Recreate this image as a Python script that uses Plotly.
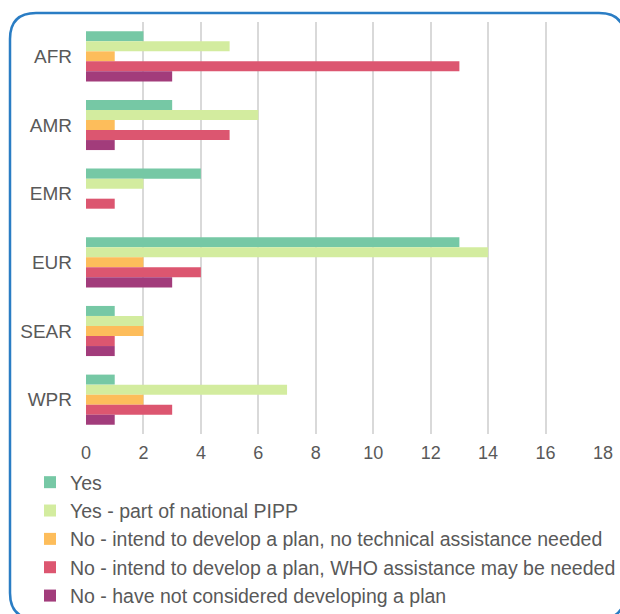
import plotly.graph_objects as go

# WHO regions and the share of answers per planning status
regions = ["AFR", "AMR", "EMR", "EUR", "SEAR", "WPR"]
series_names = [
    "Yes",
    "Yes - part of national PIPP",
    "No - intend to develop a plan, no technical assistance needed",
    "No - intend to develop a plan, WHO assistance may be needed",
    "No - have not considered developing a plan",
]
yes = [2, 3, 4, 13, 1, 1]
yes_pipp = [5, 6, 2, 14, 2, 7]
no_no_ta = [1, 1, 0, 2, 2, 2]
no_who_ta = [13, 5, 1, 4, 1, 3]
no_not_considered = [3, 1, 0, 3, 1, 1]
x_ticks = [0, 2, 4, 6, 8, 10, 12, 14, 16, 18]

colors = ["#76C8A5", "#D3EC9F", "#FDBD5B", "#DC5670", "#A23C7B"]
values = [yes, yes_pipp, no_no_ta, no_who_ta, no_not_considered]

W, H = 620, 614
L, R, T, B = 86, 17, 22, 180
pw, ph = W - L - R, H - T - B

fig = go.Figure()
for name, vals, col in zip(series_names, values, colors):
    fig.add_trace(go.Bar(
        y=regions, x=vals, name=name, orientation="h",
        marker=dict(color=col, line=dict(width=0)),
    ))

def px_x(p):
    return (p - L) / pw

def px_y(p):
    return (H - B - p) / ph

# rounded frame around the whole chart
x0, x1, y0, y1, r = 10, 625, 13, 619, 26
path = (
    f"M {px_x(x0 + r)},{px_y(y0)} L {px_x(x1 - r)},{px_y(y0)} "
    f"Q {px_x(x1)},{px_y(y0)} {px_x(x1)},{px_y(y0 + r)} "
    f"L {px_x(x1)},{px_y(y1 - r)} "
    f"Q {px_x(x1)},{px_y(y1)} {px_x(x1 - r)},{px_y(y1)} "
    f"L {px_x(x0 + r)},{px_y(y1)} "
    f"Q {px_x(x0)},{px_y(y1)} {px_x(x0)},{px_y(y1 - r)} "
    f"L {px_x(x0)},{px_y(y0 + r)} "
    f"Q {px_x(x0)},{px_y(y0)} {px_x(x0 + r)},{px_y(y0)} Z"
)

font = dict(family="Liberation Sans, Arial, sans-serif", color="#595959", size=18)

fig.update_layout(
    width=W, height=H,
    margin=dict(l=L, r=R, t=T, b=B, pad=0, autoexpand=False),
    paper_bgcolor="white", plot_bgcolor="white",
    barmode="group", bargap=0.27, bargroupgap=0,
    font=font,
    xaxis=dict(
        range=[0, 18], tickvals=x_ticks, showgrid=True,
        gridcolor="#D9D9D9", gridwidth=1.5, zeroline=False,
        showline=False, ticks="", tickfont=dict(size=18),
        ticklabelstandoff=6,
    ),
    yaxis=dict(
        autorange="reversed", showgrid=False, zeroline=False,
        showline=False, ticks="", ticklabelstandoff=13,
        tickfont=dict(size=19),
    ),
    legend=dict(
        orientation="v", x=px_x(30), xanchor="left",
        y=px_y(463), yanchor="top", font=dict(size=19.5),
        bgcolor="rgba(0,0,0,0)", itemwidth=30,
    ),
    shapes=[dict(
        type="path", path=path, xref="paper", yref="paper",
        line=dict(color="#2A7DC4", width=2.5), layer="above",
    )],
)

fig.write_html("out.html")
